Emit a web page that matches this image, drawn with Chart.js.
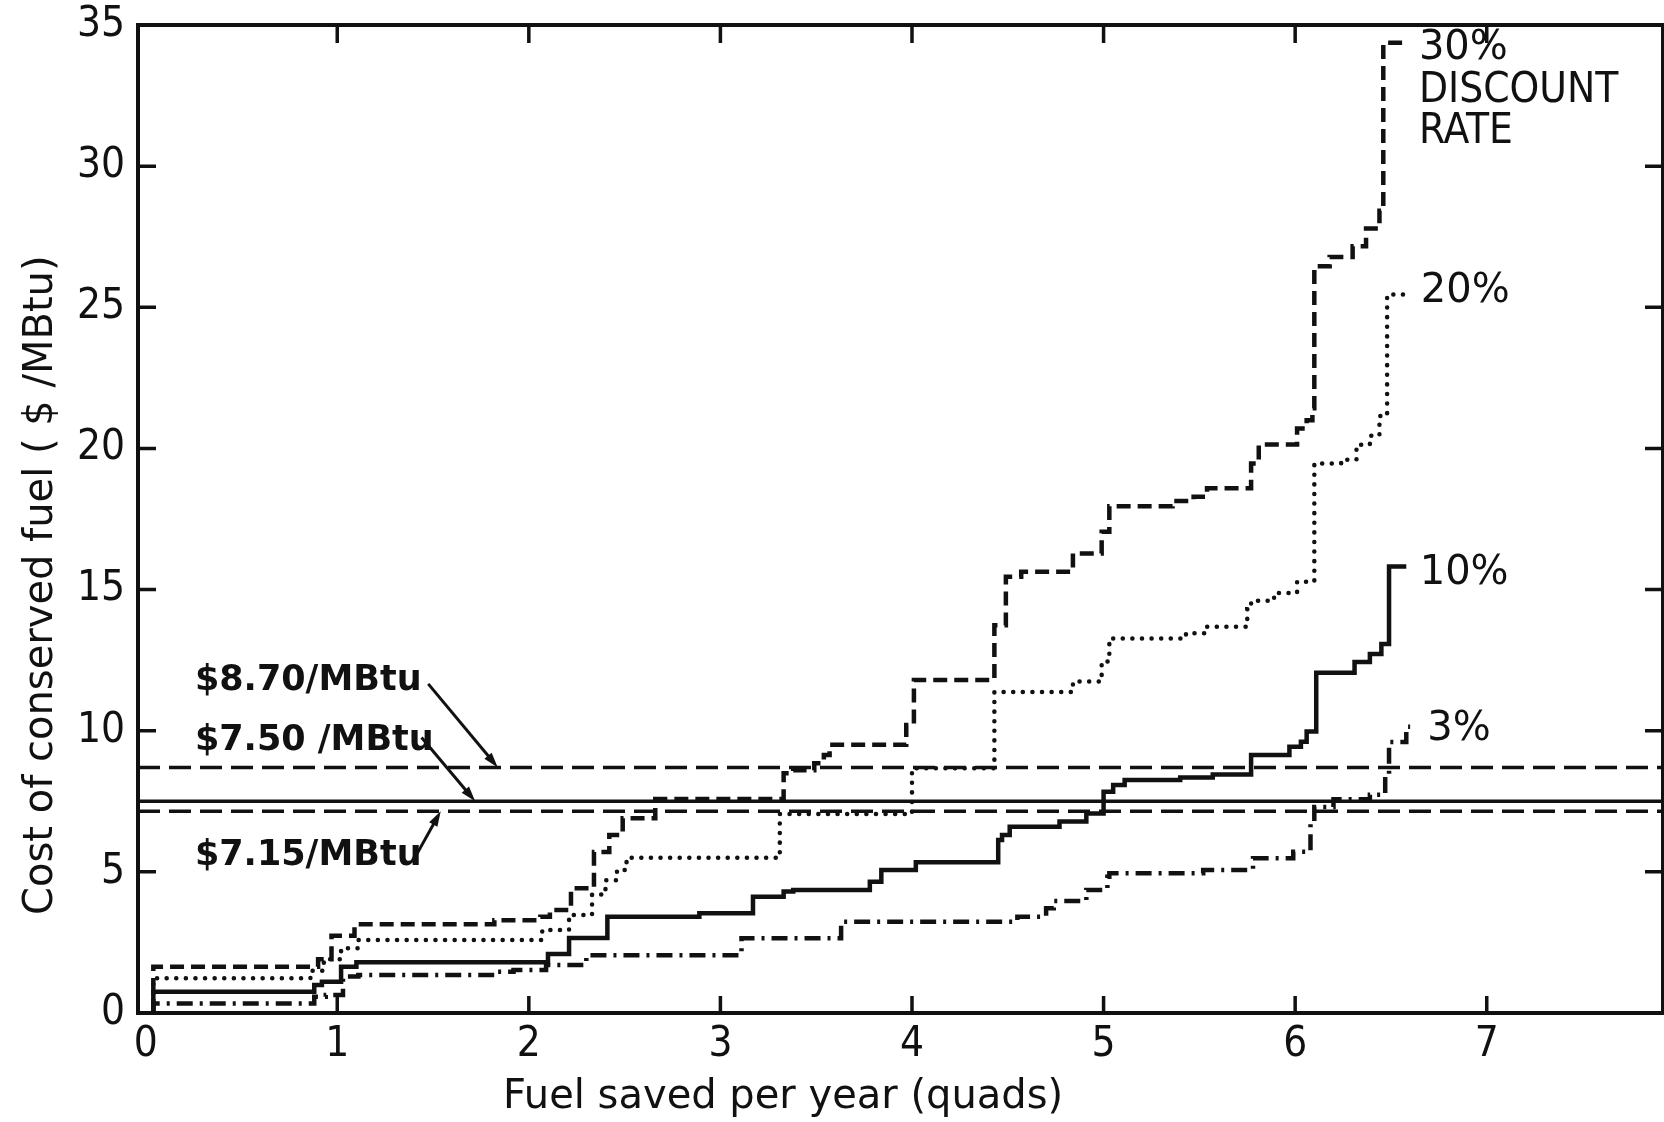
<!DOCTYPE html>
<html>
<head>
<meta charset="utf-8">
<title>Cost of conserved fuel</title>
<script src="https://cdn.jsdelivr.net/npm/chart.js@4.4.1/dist/chart.umd.min.js"></script>
<style>
  html, body { margin: 0; padding: 0; background: #fff; }
  #wrap { width: 1664px; height: 1122px; }
</style>
</head>
<body>
<div id="wrap"><canvas id="supplyChart" width="1664" height="1122"></canvas></div>
<script>
// each step starts at fuel saved x (quads) and costs y ($/MBtu) until the next x
const rate30X = [0.04, 0.04, 0.90, 0.97, 1.09, 1.82, 2.06, 2.11, 2.22, 2.34, 2.42, 2.49, 2.66, 3.33, 3.38, 3.49, 3.54, 3.57, 3.97, 4.01, 4.43, 4.49, 4.57, 4.84, 4.99, 5.03, 5.36, 5.47, 5.54, 5.77, 5.81, 6.01, 6.06, 6.09, 6.10, 6.18, 6.30, 6.37, 6.44, 6.46, 6.57];
const rate30Y = [0, 1.64, 1.90, 2.74, 3.14, 3.29, 3.41, 3.65, 4.42, 5.70, 6.31, 6.90, 7.58, 8.49, 8.60, 8.85, 9.14, 9.50, 10.2, 11.8, 13.74, 15.45, 15.63, 16.28, 17.05, 17.95, 18.14, 18.29, 18.59, 19.47, 20.14, 20.71, 21.0, 21.42, 26.45, 26.78, 27.16, 27.79, 28.42, 34.37, 34.37];

const rate20X = [0.04, 0.04, 0.86, 0.93, 1.02, 1.11, 2.07, 2.21, 2.33, 2.40, 2.46, 2.51, 3.31, 4.00, 4.43, 4.84, 4.99, 5.03, 5.43, 5.54, 5.75, 5.77, 5.89, 6.01, 6.10, 6.24, 6.32, 6.39, 6.44, 6.48, 6.57];
const rate20Y = [0, 1.23, 1.50, 1.90, 2.29, 2.59, 2.94, 3.47, 4.20, 4.70, 5.07, 5.50, 7.05, 8.67, 11.37, 11.74, 12.45, 13.27, 13.45, 13.68, 14.30, 14.60, 14.88, 15.28, 19.47, 19.60, 20.13, 20.45, 21.15, 25.45, 25.45];

const rate10X = [0.04, 0.04, 0.88, 0.92, 1.02, 1.10, 2.10, 2.21, 2.41, 2.89, 3.17, 3.33, 3.38, 3.78, 3.84, 4.02, 4.45, 4.47, 4.51, 4.77, 4.91, 5.00, 5.05, 5.11, 5.40, 5.57, 5.77, 5.97, 6.03, 6.06, 6.11, 6.31, 6.39, 6.45, 6.49, 6.58];
const rate10Y = [0, 0.75, 0.99, 1.11, 1.64, 1.80, 2.09, 2.66, 3.41, 3.53, 4.12, 4.30, 4.36, 4.65, 5.07, 5.34, 6.13, 6.31, 6.60, 6.78, 7.07, 7.84, 8.08, 8.25, 8.34, 8.45, 9.14, 9.43, 9.61, 9.97, 12.05, 12.43, 12.72, 13.07, 15.82, 15.82];

const rate3X = [0.04, 0.04, 0.88, 0.94, 1.03, 1.11, 1.82, 1.92, 2.09, 2.30, 3.11, 3.63, 4.55, 4.70, 4.74, 4.91, 5.02, 5.03, 5.52, 5.78, 5.99, 6.08, 6.10, 6.20, 6.39, 6.47, 6.49, 6.58, 6.60];
const rate3Y = [0, 0.34, 0.58, 0.64, 1.29, 1.35, 1.46, 1.52, 1.70, 2.05, 2.65, 3.23, 3.41, 3.71, 3.97, 4.36, 4.83, 4.95, 5.07, 5.48, 5.71, 6.78, 7.30, 7.57, 7.73, 8.43, 9.60, 10.14, 10.14];

// fuel prices drawn across the whole plot
const priceLabels = ['$8.70/MBtu', '$7.50 /MBtu', '$7.15/MBtu'];
const priceValues = [8.70, 7.50, 7.15];

const xTicks = [0, 1, 2, 3, 4, 5, 6, 7];
const yTicks = [0, 5, 10, 15, 20, 25, 30, 35];
const xMin = -0.04;
const xMax = 7.92;

const ink = '#111';
const narrowFont = '"Liberation Sans Narrow", "DejaVu Sans Condensed", "Liberation Sans", sans-serif';
const plainFont = '"DejaVu Sans", "Liberation Sans", sans-serif';

// where the hand lettering sits, in axis units
const priceNotes = [
  { text: priceLabels[0], x: 0.257, y: 11.44, from: [1.475, 11.66], to: [1.838, priceValues[0]] },
  { text: priceLabels[1], x: 0.257, y: 9.32, from: [1.44, 9.76], to: [1.72, priceValues[1]] },
  { text: priceLabels[2], x: 0.257, y: 5.24, from: [1.395, 5.38], to: [1.54, priceValues[2]] }
];
const rateNotes = [
  { text: '30%', x: 6.646, y: 33.8, font: '40px ' + plainFont },
  { text: 'DISCOUNT', x: 6.646, y: 32.27, font: '42px ' + narrowFont },
  { text: 'RATE', x: 6.646, y: 30.82, font: '42px ' + narrowFont },
  { text: '20%', x: 6.656, y: 25.19, font: '40px ' + plainFont },
  { text: '10%', x: 6.65, y: 15.2, font: '40px ' + plainFont },
  { text: '3%', x: 6.69, y: 9.67, font: '40px ' + plainFont }
];

function toPoints(xs, ys) {
  return xs.map((x, i) => ({ x: x, y: ys[i] }));
}

function stepSeries(label, xs, ys, dash) {
  return {
    label: label,
    data: toPoints(xs, ys),
    stepped: true,
    borderColor: ink,
    borderWidth: 4.5,
    borderDash: dash,
    borderCapStyle: dash.length === 2 && dash[0] < 1 ? 'round' : 'butt',
    pointRadius: 0,
    fill: false
  };
}

function priceSeries(i, dash) {
  return {
    label: priceLabels[i],
    data: [{ x: xMin, y: priceValues[i] }, { x: xMax, y: priceValues[i] }],
    borderColor: ink,
    borderWidth: 3.5,
    borderDash: dash,
    pointRadius: 0,
    fill: false
  };
}

function drawArrow(ctx, x1, y1, x2, y2) {
  const ang = Math.atan2(y2 - y1, x2 - x1);
  const head = 16;
  ctx.beginPath();
  ctx.moveTo(x1, y1);
  ctx.lineTo(x2 - Math.cos(ang) * head * 0.7, y2 - Math.sin(ang) * head * 0.7);
  ctx.stroke();
  ctx.beginPath();
  ctx.moveTo(x2, y2);
  ctx.lineTo(x2 - head * Math.cos(ang - 0.3), y2 - head * Math.sin(ang - 0.3));
  ctx.lineTo(x2 - head * Math.cos(ang + 0.3), y2 - head * Math.sin(ang + 0.3));
  ctx.closePath();
  ctx.fill();
}

const paperDecor = {
  id: 'paperDecor',
  beforeDraw(chart) {
    const ctx = chart.ctx;
    ctx.save();
    ctx.fillStyle = '#fff';
    ctx.fillRect(0, 0, chart.width, chart.height);
    ctx.restore();
  },
  afterDraw(chart) {
    const { ctx, chartArea: a, scales: { x, y } } = chart;
    ctx.save();
    ctx.strokeStyle = ink;
    ctx.fillStyle = ink;

    // frame
    ctx.lineWidth = 4;
    ctx.strokeRect(a.left, a.top, a.right - a.left, a.bottom - a.top);

    // ticks point into the plot
    ctx.lineWidth = 3.5;
    ctx.beginPath();
    xTicks.slice(1).forEach(v => {
      const px = x.getPixelForValue(v);
      ctx.moveTo(px, a.bottom);
      ctx.lineTo(px, a.bottom - 17);
      ctx.moveTo(px, a.top);
      ctx.lineTo(px, a.top + 18);
    });
    yTicks.slice(1, -1).forEach(v => {
      const py = y.getPixelForValue(v);
      ctx.moveTo(a.left, py);
      ctx.lineTo(a.left + 18, py);
      ctx.moveTo(a.right, py);
      ctx.lineTo(a.right - 18, py);
    });
    ctx.stroke();

    // axis titles
    ctx.font = '40px ' + plainFont;
    ctx.textBaseline = 'alphabetic';
    ctx.textAlign = 'center';
    ctx.fillText('Fuel saved per year (quads)', a.left + (a.right - a.left) * 0.423, 1108);
    ctx.save();
    ctx.translate(52, a.top + (a.bottom - a.top) * 0.567);
    ctx.rotate(-Math.PI / 2);
    ctx.fillText('Cost of conserved fuel ( $ /MBtu)', 0, 0);
    ctx.restore();

    // price labels with arrows
    ctx.textAlign = 'left';
    ctx.font = 'bold 35px ' + plainFont;
    ctx.lineWidth = 3;
    priceNotes.forEach(n => {
      ctx.fillText(n.text, x.getPixelForValue(n.x), y.getPixelForValue(n.y));
      drawArrow(ctx,
        x.getPixelForValue(n.from[0]), y.getPixelForValue(n.from[1]),
        x.getPixelForValue(n.to[0]), y.getPixelForValue(n.to[1]));
    });

    // discount rate labels
    rateNotes.forEach(n => {
      ctx.font = n.font;
      ctx.fillText(n.text, x.getPixelForValue(n.x), y.getPixelForValue(n.y));
    });
    ctx.restore();
  }
};

const ctx = document.getElementById('supplyChart').getContext('2d');

new Chart(ctx, {
  type: 'line',
  data: {
    datasets: [
      priceSeries(0, [22, 9]),
      priceSeries(1, []),
      priceSeries(2, [22, 9]),
      stepSeries('30%', rate30X, rate30Y, [14, 7]),
      stepSeries('20%', rate20X, rate20Y, [0.1, 9.5]),
      stepSeries('10%', rate10X, rate10Y, []),
      stepSeries('3%', rate3X, rate3Y, [16, 7, 3, 7])
    ]
  },
  options: {
    responsive: false,
    animation: false,
    layout: { padding: { top: 25, right: 1, left: 0, bottom: 0 } },
    plugins: {
      legend: { display: false },
      tooltip: { enabled: false }
    },
    scales: {
      x: {
        type: 'linear',
        min: xMin,
        max: xMax,
        grid: { display: false, drawTicks: false },
        border: { display: false },
        afterBuildTicks(scale) {
          scale.ticks = xTicks.map(v => ({ value: v }));
        },
        afterFit(scale) {
          scale.height = 109;
          scale.paddingLeft = 0;
          scale.paddingRight = 0;
        },
        ticks: {
          color: ink,
          padding: 7,
          maxRotation: 0,
          font: { family: narrowFont, size: 42 },
          callback: v => String(v)
        }
      },
      y: {
        type: 'linear',
        min: 0,
        max: 35,
        grid: { display: false, drawTicks: false },
        border: { display: false },
        afterBuildTicks(scale) {
          scale.ticks = yTicks.map(v => ({ value: v }));
        },
        afterFit(scale) {
          scale.width = 138;
          scale.paddingTop = 0;
          scale.paddingBottom = 0;
        },
        ticks: {
          color: ink,
          padding: 13,
          font: { family: narrowFont, size: 42 },
          callback: v => String(v)
        }
      }
    }
  },
  plugins: [paperDecor]
});
</script>
</body>
</html>
